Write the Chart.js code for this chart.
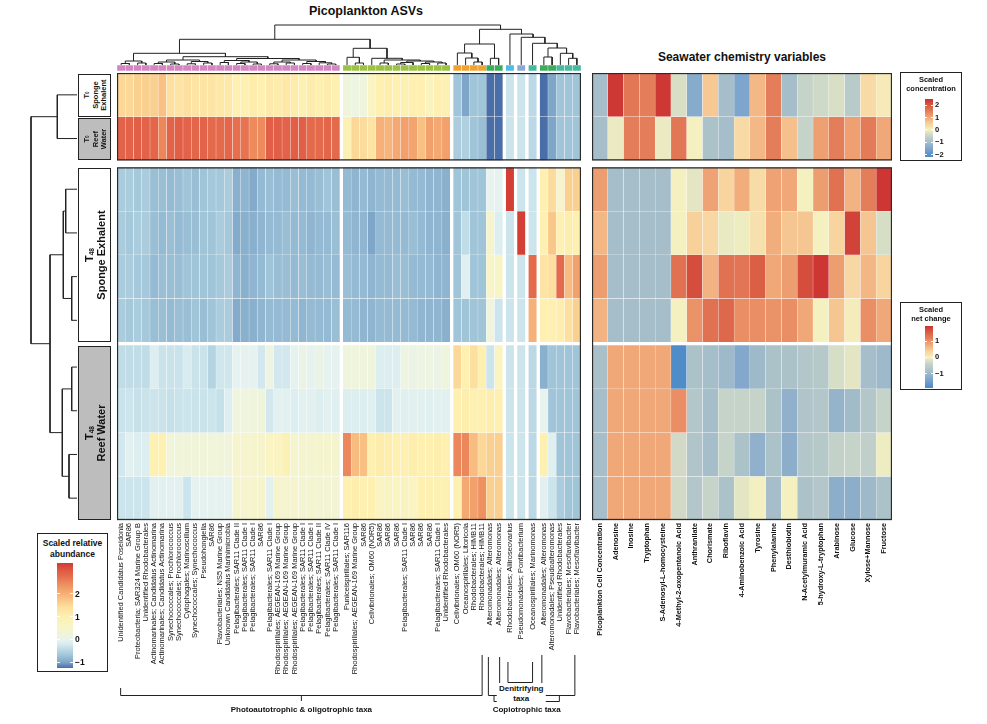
<!DOCTYPE html>
<html>
<head>
<meta charset="utf-8">
<script src="https://cdn.jsdelivr.net/npm/chart.js@4.4.1/dist/chart.umd.min.js"></script>
<style>
html,body{margin:0;padding:0;background:#fff;}
body{width:987px;height:724px;position:relative;overflow:hidden;font-family:"Liberation Sans",Arial,Helvetica,sans-serif;color:#111;}
canvas{display:block;position:absolute;}
.title{position:absolute;font-weight:bold;white-space:nowrap;transform:translate(-50%,-50%);}
.rowbox{position:absolute;box-sizing:border-box;border:1px solid #222;overflow:hidden;}
.rowbox .in{position:absolute;left:50%;top:50%;transform:translate(-50%,-50%) rotate(-90deg);display:flex;flex-direction:column;align-items:center;justify-content:center;font-weight:bold;text-align:center;line-height:1.08;white-space:nowrap;}
.rowbox sub{font-size:60%;vertical-align:-15%;}
.legend{position:absolute;box-sizing:border-box;border:1px solid #222;background:#fff;}
.legend .lt{position:absolute;left:0;right:0;text-align:center;font-weight:bold;line-height:1.25;}
.legend .bar{position:absolute;}
.legend .tk{position:absolute;font-weight:bold;line-height:1;transform:translateY(-50%);}
.legend .tm{position:absolute;height:1px;background:rgba(255,255,255,0.9);}
.ann{position:absolute;font-weight:bold;white-space:nowrap;transform:translateX(-50%);font-size:8px;text-align:center;line-height:1.25;}
</style>
</head>
<body>
<div class="title" style="left:366px;top:11px;font-size:12.5px;">Picoplankton ASVs</div>
<div class="title" style="left:742px;top:57px;font-size:12px;">Seawater chemistry variables</div>

<canvas id="colDendro" width="464" height="52" style="left:117px;top:19px;"></canvas>
<canvas id="rowDendro" width="77" height="447" style="left:0px;top:73px;"></canvas>
<canvas id="heatL" width="464" height="647" style="left:117px;top:73px;"></canvas>
<canvas id="heatR" width="300" height="647" style="left:592px;top:73px;"></canvas>
<svg id="brackets" width="987" height="724" style="position:absolute;left:0;top:0;pointer-events:none;"></svg>

<script>
// ================= DATA =================
const SAMPLE_ROWS = ["T0 Sponge Exhalent", "T0 Reef Water",
  "T48 Sponge Exhalent 1", "T48 Sponge Exhalent 2", "T48 Sponge Exhalent 3", "T48 Sponge Exhalent 4",
  "T48 Reef Water 1", "T48 Reef Water 2", "T48 Reef Water 3", "T48 Reef Water 4"];

const ASV_LABELS = [
 "Unidentified Candidatus Poseidonia","SAR86","Proteobacteria; SAR324 Marine Group B","Unidentified Rhodobacterales",
 "Actinomarinales; Candidatus Actinomarina","Actinomarinales; Candidatus Actinomarina","Synechococcales; Prochlorococcus","Synechococcales; Prochlorococcus",
 "Cytophagales; Marinoscillum","Synechococcales; Synechococcus","Pseudohongiella","SAR86",
 "Flavobacteriales; NS5 Marine Group","Unknown Candidatus Marinimicrobia","Pelagibacterales; SAR11 Clade II","Pelagibacterales; SAR11 Clade I",
 "Pelagibacterales; SAR11 Clade I","SAR86","Pelagibacterales; SAR11 Clade I","Rhodospirillales; AEGEAN-169 Marine Group",
 "Rhodospirillales; AEGEAN-169 Marine Group","Rhodospirillales; AEGEAN-169 Marine Group","Pelagibacterales; SAR11 Clade I","Pelagibacterales; SAR11 Clade I",
 "Pelagibacterales; SAR11 Clade II","Pelagibacterales; SAR11 Clade IV","Pelagibacterales; SAR11 Clade I",
 "Puniceispirillales; SAR116","Rhodospirillales; AEGEAN-169 Marine Group","SAR86","Cellvibrionales; OM60 (NOR5)",
 "SAR86","SAR86","SAR86","Pelagibacterales; SAR11 Clade I","SAR86","SAR86","SAR86","Pelagibacterales; SAR11 Clade I","Unidentified Rhodobacterales",
 "Cellvibrionales; OM60 (NOR5)","Oceanospirillales; Litoricola","Rhodobacterales; HIMB11","Rhodobacterales; HIMB11",
 "Alteromonadales; Alteromonas","Alteromonadales; Alteromonas",
 "Rhodobacterales; Aliiroseovarius","Pseudomonadales; Pontibacterium","Oceanospirillales; Marinomonas",
 "Alteromonadales; Alteromonas","Alteromonadales; Pseudoalteromonas","Unidentified Rhodobacterales","Flavobacteriales; Mesoflavibacter","Flavobacteriales; Mesoflavibacter"
];
// heatmap column splits (from dendrogram cut) and taxon cluster membership
const ASV_SPLIT_SIZES = [27, 13, 6, 1, 1, 1, 5];
const ASV_CLUSTER_SIZES = [27, 13, 4, 2, 1, 1, 1, 2, 3];
const ASV_CLUSTER_NAMES = ["pink","lime","orange","green","cyan","steel","teal","green","teal"];

// scaled relative abundance, one array per sample row (54 ASVs each)
const ABUND_T0_SPONGE = [1.5,1.5,1.6,1.6,1.6,1.8,1.4,1.3,1.4,1.3,1.3,1.3,1.2,1.2,1.0,1.0,1.1,1.0,1.15,1.1,1.2,1.1,1.0,1.1,1.0,1.1,1.0,
  0.2,0.15,0.2,0.65,1.0,1.05,1.0,0.95,1.0,1.0,0.7,1.0,0.95,
  -0.7,-1.0,-0.7,-0.7,-1.25,-1.25, -0.3,-0.3,-0.45, -1.25,-1.0,-0.7,-0.7,-0.7];
const ABUND_T0_REEF = [2.9,2.9,2.95,2.9,2.85,2.5,2.9,2.95,2.9,2.85,2.9,2.8,2.8,2.85,2.75,2.7,2.45,2.45,2.95,2.95,2.9,2.95,2.95,2.8,2.8,2.85,2.8,
  0.9,1.5,1.45,1.3,2.0,1.95,2.1,2.2,2.15,1.8,2.2,2.1,2.2,
  -0.6,-0.55,-0.7,-0.75,-1.25,-1.25, -0.3,-0.3,-0.45, -1.25,-1.0,-0.7,-0.7,-0.7];
const ABUND_T48_SPONGE_1 = [-0.6,-0.6,-0.65,-0.6,-0.75,-0.75,-0.8,-0.75,-0.7,-0.75,-0.7,-0.65,-0.65,-0.6,-0.9,-0.85,-0.95,-0.8,-0.75,-0.8,-0.8,-0.75,-0.8,-0.8,-0.75,-0.7,-0.75,
  -0.8,-0.85,-0.8,-0.85,-0.8,-0.8,-0.8,-0.75,-0.8,-0.8,-0.85,-0.85,-0.9,
  -0.7,-0.7,-0.7,-0.7,0.0,-0.03, 3.3,-0.3,-0.3, 1.0,1.45,0.45,1.6,1.6];
const ABUND_T48_SPONGE_2 = [-0.6,-0.65,-0.6,-0.6,-0.75,-0.8,-0.75,-0.8,-0.75,-0.75,-0.7,-0.7,-0.6,-0.65,-0.95,-0.9,-0.9,-0.85,-0.8,-0.8,-0.75,-0.8,-0.8,-0.85,-0.8,-0.8,-0.75,
  -0.8,-0.85,-0.85,-1.0,-0.8,-0.8,-0.8,-0.8,-0.75,-0.8,-0.85,-0.85,-0.9,
  -0.7,-0.4,-0.7,-0.7,0.45,-0.15, -0.3,3.3,-0.3, 1.0,1.7,1.0,1.05,1.0];
const ABUND_T48_SPONGE_3 = [-0.6,-0.6,-0.65,-0.65,-0.8,-0.75,-0.75,-0.75,-0.7,-0.7,-0.7,-0.7,-0.65,-0.6,-0.85,-0.9,-0.85,-0.8,-0.7,-0.75,-0.75,-0.8,-0.75,-0.8,-0.8,-0.75,-0.8,
  -0.75,-0.8,-0.8,-0.85,-0.8,-0.8,-0.75,-0.75,-0.8,-0.8,-0.8,-0.85,-0.85,
  -0.7,-0.1,-0.7,-0.7,0.55,0.55, -0.3,-0.3,2.8, 1.3,1.4,2.8,1.85,2.2];
const ABUND_T48_SPONGE_4 = [-0.6,-0.65,-0.6,-0.65,-0.75,-0.75,-0.8,-0.75,-0.75,-0.7,-0.75,-0.7,-0.6,-0.6,-0.95,-0.9,-0.9,-0.85,-0.8,-0.8,-0.8,-0.8,-0.85,-0.8,-0.8,-0.8,-0.75,
  -0.8,-0.8,-0.85,-0.85,-0.8,-0.8,-0.8,-0.8,-0.8,-0.85,-0.85,-0.85,-0.9,
  -0.7,-0.7,-0.7,-0.7,0.2,-0.3, -0.3,-0.3,2.0, 1.0,1.0,1.05,1.4,1.6];
const ABUND_T48_REEF_1 = [-0.4,-0.4,-0.4,-0.4,-0.15,-0.32,-0.32,-0.32,-0.2,-0.32,-0.32,-0.5,-0.28,-0.28,-0.03,-0.03,-0.03,-0.25,0.15,-0.25,-0.25,-0.03,0.1,-0.03,0.1,-0.03,-0.03,
  0.2,0.2,0.2,0.2,-0.15,-0.15,-0.15,0.15,0.1,0.15,0.15,0.1,0.2,
  1.5,1.0,1.4,1.0,-0.3,0.65, -0.3,-0.3,-0.45, -0.9,-0.7,-0.7,-0.7,-0.7];
const ABUND_T48_REEF_2 = [-0.32,-0.3,-0.35,-0.32,-0.3,-0.32,-0.35,-0.32,-0.3,-0.32,-0.32,-0.3,-0.35,-0.15,0.2,0.2,0.2,0.2,-0.25,-0.07,-0.07,-0.15,-0.07,-0.07,-0.15,-0.07,-0.1,
  -0.15,-0.15,-0.15,-0.1,-0.3,-0.3,-0.07,-0.1,-0.07,-0.07,-0.1,-0.07,-0.07,
  1.0,1.05,1.0,1.0,1.05,1.0, -0.3,-0.3,-0.45, 0.0,-0.7,-0.7,-0.7,-0.7];
const ABUND_T48_REEF_3 = [-0.25,-0.07,-0.15,-0.15,1.0,1.0,0.25,0.25,0.25,0.25,0.25,0.25,0.25,0.25,0.45,0.45,0.45,0.45,0.65,0.65,0.9,0.4,0.4,0.4,0.4,0.4,0.4,
  2.5,1.85,1.8,1.0,1.1,1.05,1.0,1.0,1.05,1.0,1.0,1.05,1.0,
  2.5,2.5,1.85,1.5,1.6,1.6, -0.3,-0.3,-0.45, 1.0,-0.1,-0.7,-0.7,-0.7];
const ABUND_T48_REEF_4 = [-0.3,-0.3,-0.3,-0.3,-0.07,-0.07,-0.07,-0.07,-0.3,-0.03,-0.03,-0.03,-0.03,-0.03,0.45,0.45,0.45,0.45,-0.07,0.45,0.4,0.45,0.35,0.4,0.3,0.35,0.3,
  1.0,1.05,1.0,1.0,0.65,0.7,0.65,0.7,0.65,1.0,1.0,0.95,1.0,
  1.0,2.1,2.2,2.4,1.6,1.6, -0.3,-0.3,-0.45, -0.07,-0.3,-0.6,-0.7,-0.7];

const CHEM_LABELS = ["Picoplankton Cell Concentration","Adenosine","Inosine","Tryptophan","S-Adenosyl-L-homocysteine",
  "4-Methyl-2-oxopentanoic Acid","Anthranilate","Chorismate","Riboflavin","4-Aminobenzoic Acid","Tyrosine","Phenylalanine",
  "Desthiobiotin","N-Acetylmuramic Acid","5-hydroxy-L-tryptophan","Arabinose","Glucose","Xylose+Mannose","Fructose"];
// scaled concentration (T0 rows)
const CHEM_T0_SPONGE = [-1.0,2.4,1.6,1.5,2.4,-0.3,-1.4,0.6,-1.0,-1.5,0.8,1.5,-1.0,-0.5,-0.4,-0.3,-0.7,0.35,0.1];
const CHEM_T0_REEF   = [-1.0,-0.1,1.5,1.5,-0.1,1.6,0.0,-0.9,-1.0,0.35,0.8,1.5,0.7,-0.5,1.1,1.5,1.1,1.55,1.0];
// scaled net change (T48 rows)
const CHEM_T48_SPONGE_1 = [0.9,-0.9,-0.9,-0.9,-0.9,0.0,-0.15,0.85,0.35,0.75,0.25,0.85,0.8,0.0,0.9,1.35,0.7,1.2,1.9];
const CHEM_T48_SPONGE_2 = [0.65,-0.9,-0.9,-0.9,-0.9,0.0,0.4,0.3,-0.1,-0.05,0.2,0.75,0.5,0.5,0.0,0.35,1.8,0.5,-0.25];
const CHEM_T48_SPONGE_3 = [0.9,-0.9,-0.9,-0.9,-0.9,1.35,1.7,0.7,1.35,1.3,1.55,0.8,0.9,1.7,1.9,0.9,0.3,0.65,0.35];
const CHEM_T48_SPONGE_4 = [0.7,-0.9,-0.9,-0.9,-0.9,0.0,1.0,1.35,1.45,1.05,1.05,1.0,1.05,0.8,0.0,0.5,0.05,1.05,0.8];
const CHEM_T48_REEF_1 = [-0.85,0.8,0.8,0.8,0.8,-1.85,-0.8,-0.9,-1.0,-1.3,-1.0,-0.8,-0.8,-0.7,-0.65,-0.25,-0.15,-0.9,-1.0];
const CHEM_T48_REEF_2 = [-0.9,0.8,0.8,0.8,0.8,1.05,-0.7,-0.9,-0.4,-0.4,-0.4,-0.8,-1.15,-0.75,-0.7,-1.1,-0.95,-0.7,-0.4];
const CHEM_T48_REEF_3 = [-0.9,0.8,0.8,0.8,0.8,-0.3,-0.75,-0.9,-0.4,-0.8,-1.15,-0.8,-1.2,-0.7,-0.65,-0.45,-0.4,-0.5,-0.05];
const CHEM_T48_REEF_4 = [-0.9,0.8,0.8,0.8,0.8,-0.3,-0.7,-0.4,-0.8,-0.15,-0.02,-0.9,0.0,-0.8,-0.7,-1.2,-1.2,-1.0,-0.8];

// dendrograms: [mergeHeight, left, right]; leaves = column / row index
const COL_TREE = [40,
  [25.7,
    [11.7, [4,[1.5,0,1],[2,2,3]],
      [8.3, [5,[3,[1.5,4,5],[1,6,7]],[3.5,[1.2,8,9],[2,10,11]]],
            [6.5,[4.5,[2.5,12,13],[3,[1.5,14,15],[1,16,17]]],[5,[3,[1.2,18,19],[2,20,21]],[3.5,[1.5,22,23],[2.2,24,[1,25,26]]]]]]],
    [16.7, [7.7,27,[2,28,29]], [6.7,30,[5,[2,31,32],[4,[2.5,[1,33,34],35],[3,[1.5,36,37],[2,38,39]]]]]]],
  [35.7,
    [21, [12,40,[7,41,[3,42,43]]], [6.7,44,45]],
    [31, 46, [27.7, 47, [21.7, 48, [17, [8,49,50], [11.7,51,[6.7,52,53]]]]]]]];
const ROW_TREE = [46, [19.7, 0, 1], [27, [13.7, [11.3, 2, 3], [5.3, 4, 5]], [14.7, [5.3, 6, 7], [8, 8, 9]]]];

const LEGEND_ABUND_TICKS = [2, 1, 0, -1];
const LEGEND_CONC_TICKS = [2, 1, 0, -1, -2];
const LEGEND_NET_TICKS = [1, 0, -1];

// ================= STYLE / LAYOUT =================
const ABUND_ROWS = [ABUND_T0_SPONGE, ABUND_T0_REEF, ABUND_T48_SPONGE_1, ABUND_T48_SPONGE_2, ABUND_T48_SPONGE_3, ABUND_T48_SPONGE_4,
  ABUND_T48_REEF_1, ABUND_T48_REEF_2, ABUND_T48_REEF_3, ABUND_T48_REEF_4];
const CHEM_ROWS = [CHEM_T0_SPONGE, CHEM_T0_REEF, CHEM_T48_SPONGE_1, CHEM_T48_SPONGE_2, CHEM_T48_SPONGE_3, CHEM_T48_SPONGE_4,
  CHEM_T48_REEF_1, CHEM_T48_REEF_2, CHEM_T48_REEF_3, CHEM_T48_REEF_4];

const CLUSTER_COLORS = {pink:"#d486c0", lime:"#9cc245", orange:"#f0a232", green:"#3cab5a", cyan:"#4dbbe6", steel:"#8ca8d6", teal:"#47b99e"};

function hexRgb(h){return [parseInt(h.slice(1,3),16),parseInt(h.slice(3,5),16),parseInt(h.slice(5,7),16)];}
function colorScale(stops){
  const s = stops.map(([v,c])=>[v,hexRgb(c)]);
  return v=>{
    let c;
    if (v<=s[0][0]) c=s[0][1];
    else if (v>=s[s.length-1][0]) c=s[s.length-1][1];
    else for (let i=1;i<s.length;i++){ if (v<=s[i][0]){ const t=(v-s[i-1][0])/(s[i][0]-s[i-1][0]); c=s[i-1][1].map((a,k)=>Math.round(a+(s[i][1][k]-a)*t)); break; } }
    return `rgb(${c[0]},${c[1]},${c[2]})`;
  };
}
const abundColor = colorScale([[-1.25,"#4a6ea8"],[-1.0,"#7ea6c8"],[-0.7,"#a0c4d8"],[-0.4,"#c0dce6"],[-0.2,"#d8ecf0"],[0,"#e8f3ef"],
  [0.3,"#f2f4d4"],[0.6,"#f8f4c4"],[1.0,"#fdf0b0"],[1.4,"#fde0a0"],[1.7,"#f9c888"],[2.0,"#f6b078"],[2.4,"#ee9060"],[2.8,"#e46a4c"],[3.0,"#e05c45"],[3.35,"#d13a32"]]);
const concColor = colorScale([[-2.2,"#4b8bc8"],[-1.5,"#7ea6cc"],[-1.0,"#a6bec9"],[-0.5,"#c6d3c9"],[0,"#f4f0c0"],[0.5,"#f8d09a"],[1.0,"#f0a878"],[1.5,"#e47e5a"],[2.0,"#d85a42"],[2.5,"#cc3030"]]);
const netColor = colorScale([[-1.9,"#4b8bc8"],[-1.3,"#84a8cc"],[-0.9,"#a6bec9"],[-0.4,"#c6d3c9"],[0,"#f4f0c0"],[0.4,"#f8d09a"],[0.8,"#f0a878"],[1.2,"#e47e5a"],[1.6,"#d85a42"],[1.95,"#cc3030"]]);

const HEAT_TOP = 73, HEAT_H = 447;
const ROW_GAP_AFTER = {1:0.16, 5:0.07};
const COL_GAP = 0.37;
function rowLayout(){ const s=[]; let y=0; for(let i=0;i<SAMPLE_ROWS.length;i++){ s.push(y); y+=1; if(ROW_GAP_AFTER[i]) y+=ROW_GAP_AFTER[i]; } return {starts:s,total:y}; }
const RL = rowLayout();
function colLayout(){ const c=[]; let x=0; ASV_SPLIT_SIZES.forEach((n,g)=>{ if(g>0) x+=COL_GAP; for(let k=0;k<n;k++){ c.push(x+0.5); x+=1; } }); return {centers:c,total:x}; }
const CL = colLayout();
const CLUSTER_OF = []; ASV_CLUSTER_SIZES.forEach((n,g)=>{ for(let k=0;k<n;k++) CLUSTER_OF.push(ASV_CLUSTER_NAMES[g]); });
const CHEM_CX = CHEM_LABELS.map((_,j)=>j+0.5);

const FONT = '"Liberation Sans", Arial, sans-serif';
Chart.defaults.font.family = FONT;

const framePlugin = {
  id:'frames',
  afterDatasetsDraw(chart, args, opts){
    if(!opts || !opts.blocks) return;
    const {ctx, scales:{x,y}} = chart;
    ctx.save(); ctx.strokeStyle='#2a2a2a'; ctx.lineWidth=1.3;
    opts.blocks.forEach(([a,b])=>{
      const t=y.getPixelForValue(RL.starts[a]), bt=y.getPixelForValue(RL.starts[b]+1);
      ctx.strokeRect(x.left+0.5, t+0.5, x.right-x.left-1, bt-t-1);
    });
    ctx.restore();
  }
};

const baseOpts = {responsive:false, animation:false, events:[], layout:{padding:0},
  plugins:{legend:{display:false}, tooltip:{enabled:false}}};

function makeHeat(id, cx, xmax, labels, rows, colorFor, font){
  const datasets = rows.map((vals,i)=>({
    type:'bar',
    data: vals.map((v,j)=>({x:cx[j], y:[RL.starts[i], RL.starts[i]+1]})),
    backgroundColor: vals.map(v=>colorFor(i,v)),
    borderColor:'rgba(255,255,255,0.55)', borderWidth:0.45, borderSkipped:false,
    grouped:false, barPercentage:1, categoryPercentage:1
  }));
  return new Chart(document.getElementById(id), {
    type:'bar', data:{datasets},
    options:Object.assign({}, baseOpts, {
      plugins:Object.assign({}, baseOpts.plugins, {frames:{blocks:[[0,1],[2,9]]}}),
      scales:{
        x:{type:'linear', min:0, max:xmax, offset:false, grid:{display:false, drawTicks:false, offset:false}, border:{display:false},
           afterBuildTicks:s=>{ s.ticks = cx.map(v=>({value:v})); },
           afterFit:s=>{ s.height=200; s.paddingLeft=0; s.paddingRight=0; },
           ticks:{autoSkip:false, minRotation:90, maxRotation:90, padding:3, color:'#111', font:font, callback:(v,i)=>labels[i]}},
        y:{type:'linear', min:0, max:RL.total, reverse:true, display:false}
      }
    }),
    plugins:[framePlugin]
  });
}

makeHeat('heatL', CL.centers, CL.total, ASV_LABELS, ABUND_ROWS, (i,v)=>abundColor(v), {size:7.5, family:FONT});
makeHeat('heatR', CHEM_CX, CHEM_LABELS.length, CHEM_LABELS, CHEM_ROWS, (i,v)=> i<2 ? concColor(v) : netColor(v), {size:7.3, weight:'bold', family:FONT});

// dendrogram segments
function dendroSegments(tree, leafPos, horizontal){
  const pts=[];
  function walk(n){
    if(typeof n==='number') return {p:leafPos[n], h:0};
    const a=walk(n[1]), b=walk(n[2]), h=n[0];
    if(horizontal){
      pts.push({x:a.p,y:a.h},{x:a.p,y:h},{x:b.p,y:h},{x:b.p,y:b.h},{x:b.p,y:null});
    } else {
      pts.push({x:a.h,y:a.p},{x:h,y:a.p},{x:h,y:b.p},{x:b.h,y:b.p},{x:null,y:b.p});
    }
    return {p:(a.p+b.p)/2, h};
  }
  walk(tree);
  return pts;
}

new Chart(document.getElementById('colDendro'), {
  type:'bar',
  data:{datasets:[
    {type:'bar', data:CL.centers.map(c=>({x:c, y:[-6,0]})), backgroundColor:CLUSTER_OF.map(k=>CLUSTER_COLORS[k]),
     borderColor:'rgba(255,255,255,0.8)', borderWidth:0.5, borderSkipped:false, grouped:false, barPercentage:1, categoryPercentage:1},
    {type:'line', data:dendroSegments(COL_TREE, CL.centers, true), borderColor:'#222', borderWidth:1, pointRadius:0, spanGaps:false, tension:0}
  ]},
  options:Object.assign({}, baseOpts, {scales:{
    x:{type:'linear', min:0, max:CL.total, offset:false, display:false},
    y:{type:'linear', min:-6, max:46, display:false}
  }})
});

new Chart(document.getElementById('rowDendro'), {
  type:'scatter',
  data:{datasets:[{data:dendroSegments(ROW_TREE, RL.starts.map(s=>s+0.5), false), showLine:true, borderColor:'#222', borderWidth:1, pointRadius:0, spanGaps:false, tension:0}]},
  options:Object.assign({}, baseOpts, {scales:{
    x:{type:'linear', min:0, max:77, reverse:true, display:false},
    y:{type:'linear', min:0, max:RL.total, reverse:true, display:false}
  }})
});

// ================= HTML annotations =================
const rowPx = u => HEAT_TOP + u*HEAT_H/RL.total;
function rowBox(r0, r1, bg, html, size){
  const d=document.createElement('div'); d.className='rowbox';
  const t=rowPx(RL.starts[r0]), b=rowPx(RL.starts[r1]+1);
  Object.assign(d.style,{left:'78px', top:(t+1)+'px', width:'33px', height:(b-t-1)+'px', background:bg});
  const inn=document.createElement('div'); inn.className='in'; inn.style.fontSize=size+'px'; inn.style.width=(b-t)+'px'; inn.style.height='33px';
  inn.innerHTML=html; d.appendChild(inn); document.body.appendChild(d);
}
rowBox(0,0,'#fff','<div>T<sub>0</sub></div><div>Sponge</div><div>Exhalent</div>',7.5);
rowBox(1,1,'#bdbdbd','<div>T<sub>0</sub></div><div>Reef</div><div>Water</div>',7.5);
rowBox(2,5,'#fff','<div>T<sub>48</sub></div><div>Sponge Exhalent</div>',11);
rowBox(6,9,'#bdbdbd','<div>T<sub>48</sub></div><div>Reef Water</div>',11);

function legend(o){
  const box=document.createElement('div'); box.className='legend';
  Object.assign(box.style,{left:o.left+'px',top:o.top+'px',width:o.w+'px',height:o.h+'px'});
  const t=document.createElement('div'); t.className='lt'; t.style.top=o.titleTop+'px'; t.style.fontSize=o.titleSize+'px'; t.innerHTML=o.title; box.appendChild(t);
  const bar=document.createElement('div'); bar.className='bar';
  const g=[]; const N=48; for(let k=0;k<=N;k++){ const v=o.max-(o.max-o.min)*k/N; g.push(o.color(v)+' '+(k/N*100).toFixed(2)+'%'); }
  Object.assign(bar.style,{left:o.bx+'px',top:o.by+'px',width:o.bw+'px',height:o.bh+'px',background:'linear-gradient(to bottom,'+g.join(',')+')'});
  box.appendChild(bar);
  o.ticks.forEach(v=>{
    const y=o.by+(o.max-v)/(o.max-o.min)*o.bh;
    const lab=document.createElement('div'); lab.className='tk'; lab.style.left=(o.bx+o.bw+2)+'px'; lab.style.top=y+'px'; lab.style.fontSize=o.tickSize+'px';
    lab.textContent = v<0 ? '\u2212'+Math.abs(v) : String(v); box.appendChild(lab);
    [o.bx, o.bx+o.bw-o.tmw].forEach(xx=>{ const m=document.createElement('div'); m.className='tm'; m.style.left=xx+'px'; m.style.top=(y-0.5)+'px'; m.style.width=o.tmw+'px'; box.appendChild(m); });
  });
  document.body.appendChild(box);
}
legend({left:37, top:533, w:71, h:139, title:'Scaled relative<br>abundance', titleTop:4, titleSize:8.5,
  bx:19, by:29, bw:16, bh:105, min:-1.25, max:3.35, color:abundColor, ticks:LEGEND_ABUND_TICKS, tickSize:8.5, tmw:3});
legend({left:900, top:72, w:62, h:89, title:'Scaled<br>concentration', titleTop:2, titleSize:7.5,
  bx:24, by:26, bw:8, bh:58, min:-2.2, max:2.5, color:concColor, ticks:LEGEND_CONC_TICKS, tickSize:7.5, tmw:2});
legend({left:900, top:302, w:62, h:88, title:'Scaled<br>net change', titleTop:2, titleSize:7.5,
  bx:24, by:23, bw:8, bh:62, min:-1.9, max:1.95, color:netColor, ticks:LEGEND_NET_TICKS, tickSize:7.5, tmw:2});

// taxa group brackets below the ASV labels
const colPx = j => 117 + CL.centers[j]*464/CL.total;
(function(){
  const svg=document.getElementById('brackets'); const NS='http://www.w3.org/2000/svg';
  const path=d=>{ const p=document.createElementNS(NS,'path'); p.setAttribute('d',d); p.setAttribute('stroke','#222'); p.setAttribute('stroke-width','1'); p.setAttribute('fill','none'); svg.appendChild(p); };
  const x0=colPx(0)-0.5, x43=colPx(43), x44=colPx(44), x45=colPx(45), x46=colPx(46), x48=colPx(48), x49=colPx(49)-2, x53=colPx(53);
  const pm=(x0+x43)/2;
  path(`M${x0} 688 V695.5 H${x43} V655`);
  path(`M${pm} 695.5 V701`);
  path(`M${x44-2} 657 V695.5 H${x45+1} V657`);
  path(`M${x46-2} 662 V682.5 H${x48} V662`);
  path(`M${x49} 655 V695.5 H${x53-2} V655`);
  const a=(x44+x45)/2-0.5, b=(x49+x53)/2;
  path(`M${a} 695.5 V701.5 H${b} V695.5`);
  path(`M${(a+b)/2} 701.5 V705`);
  const add=(txt,x,y,bg)=>{ const d=document.createElement('div'); d.className='ann'; d.style.left=x+'px'; d.style.top=y+'px'; d.innerHTML=txt; if(bg){d.style.background='#fff'; d.style.padding='1px 2px';} document.body.appendChild(d); };
  add('Photoautotrophic &amp; oligotrophic taxa', pm, 705);
  add('Denitrifying<br>taxa', (x46+x48)/2, 683, true);
  add('Copiotrophic taxa', (a+b)/2, 705);
})();
</script>
</body>
</html>
